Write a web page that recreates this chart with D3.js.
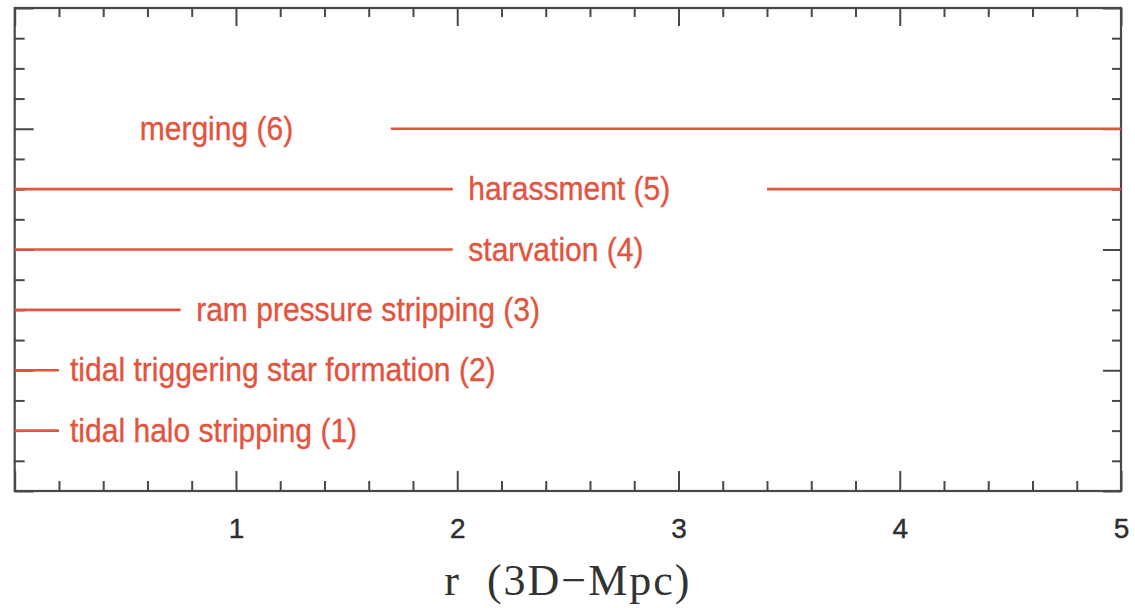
<!DOCTYPE html>
<html>
<head>
<meta charset="utf-8">
<script src="https://cdn.jsdelivr.net/npm/d3@7"></script>
<style>
  html, body { margin: 0; padding: 0; background: #fff; }
</style>
</head>
<body>
<div class="chart"></div>
<script>
// processes, ordered bottom to top
const processes = [
  `tidal halo stripping (1)`,
  `tidal triggering star formation (2)`,
  `ram pressure stripping (3)`,
  `starvation (4)`,
  `harassment (5)`,
  `merging (6)`
];
const levels = [2, 4, 6, 8, 10, 12];
// radial ranges (Mpc) where each process acts
const ranges = [
  [[0, 0.2]],
  [[0, 0.2]],
  [[0, 0.75]],
  [[0, 1.98]],
  [[0, 1.98], [3.4, 5]],
  [[1.7, 5]]
];
// where each label starts, in r units
const labelR = [0.25, 0.25, 0.82, 2.05, 2.05, 0.565];
const xTickLabels = [1, 2, 3, 4, 5];

const W = 1135;
const H = 608;
const margin = { left: 14.7, right: 1121, top: 8, bottom: 491 };
const red = `#e4533d`;
const axisColor = `#484848`;

const x = d3.scaleLinear().domain([0, 5]).range([margin.left, margin.right]);
const y = d3.scaleLinear().domain([0, 16]).range([margin.bottom, margin.top]);

const svg = d3.select(`.chart`).append(`svg`)
  .attr(`width`, W)
  .attr(`height`, H)
  .style(`display`, `block`);

svg.append(`rect`).attr(`width`, W).attr(`height`, H).attr(`fill`, `#fff`);

const xMinor = d3.range(0, 26).map(i => i / 5);
const yMinor = d3.range(0, 17);

const styleAxis = (g, isMajor, minorLen, majorLen, sign) => {
  g.select(`.domain`).remove();
  g.selectAll(`.tick line`)
    .attr(`stroke`, axisColor)
    .attr(`stroke-width`, 2)
    .each(function(d) {
      const len = isMajor(d) ? majorLen : minorLen;
      const line = d3.select(this);
      if (line.attr(`x2`) !== null) line.attr(`x2`, sign * len);
      else line.attr(`y2`, sign * len);
    });
};

const xMajor = d => Math.abs(d - Math.round(d)) < 1e-6;
const yMajor = d => d % 4 === 0;

// bottom axis
svg.append(`g`)
  .attr(`transform`, `translate(0,${margin.bottom})`)
  .call(d3.axisBottom(x).tickValues(xMinor).tickSize(-10).tickFormat(``))
  .call(g => styleAxis(g, xMajor, 10, 20, -1));

// top axis
svg.append(`g`)
  .attr(`transform`, `translate(0,${margin.top})`)
  .call(d3.axisTop(x).tickValues(xMinor).tickSize(-9).tickFormat(``))
  .call(g => styleAxis(g, xMajor, 9, 18, 1));

// left axis
svg.append(`g`)
  .attr(`transform`, `translate(${margin.left},0)`)
  .call(d3.axisLeft(y).tickValues(yMinor).tickSize(-10).tickFormat(``))
  .call(g => styleAxis(g, yMajor, 10, 19, 1));

// right axis
svg.append(`g`)
  .attr(`transform`, `translate(${margin.right},0)`)
  .call(d3.axisRight(y).tickValues(yMinor).tickSize(-9).tickFormat(``))
  .call(g => styleAxis(g, yMajor, 9, 18, -1));

// frame
svg.append(`rect`)
  .attr(`x`, margin.left)
  .attr(`y`, margin.top)
  .attr(`width`, margin.right - margin.left)
  .attr(`height`, margin.bottom - margin.top)
  .attr(`fill`, `none`)
  .attr(`stroke`, axisColor)
  .attr(`stroke-width`, 2.2);

// tick labels
svg.append(`g`)
  .attr(`transform`, `translate(0,${margin.bottom})`)
  .call(d3.axisBottom(x).tickValues(xTickLabels).tickSize(0).tickPadding(47).tickFormat(d3.format(`d`)))
  .call(g => g.select(`.domain`).remove())
  .call(g => g.selectAll(`text`)
    .attr(`fill`, `#2e2e2e`)
    .attr(`stroke`, `#2e2e2e`)
    .attr(`stroke-width`, 0.4)
    .attr(`font-family`, `Liberation Sans, Arial, sans-serif`)
    .attr(`font-size`, 28)
    .attr(`dy`, 0));

// process segments
const rows = processes.map((name, i) => ({ name, level: levels[i], ranges: ranges[i], labelR: labelR[i] }));

const segs = rows.flatMap(r => r.ranges.map(([a, b]) => ({ level: r.level, a, b })));
svg.append(`g`).selectAll(`line`)
  .data(segs)
  .enter().append(`line`)
    .attr(`x1`, d => x(d.a))
    .attr(`x2`, d => x(d.b))
    .attr(`y1`, d => y(d.level))
    .attr(`y2`, d => y(d.level))
    .attr(`stroke`, red)
    .attr(`stroke-width`, 2.6);

// labels: set taller than wide, like the original lettering
const squeeze = 0.91;
svg.append(`g`).selectAll(`text`)
  .data(rows)
  .enter().append(`text`)
    .attr(`x`, d => x(d.labelR))
    .attr(`y`, d => y(d.level))
    .attr(`dy`, 11)
    .attr(`fill`, red)
    .attr(`stroke`, red)
    .attr(`stroke-width`, 0.35)
    .attr(`font-family`, `Liberation Sans, Arial, sans-serif`)
    .attr(`font-size`, 33)
    .text(d => d.name)
    .each(function() {
      const t = d3.select(this);
      t.attr(`textLength`, this.getComputedTextLength() * squeeze)
        .attr(`lengthAdjust`, `spacingAndGlyphs`);
    });

// axis title
svg.append(`text`)
  .attr(`x`, (x(2) + x(3)) / 2)
  .attr(`y`, 595)
  .attr(`text-anchor`, `middle`)
  .attr(`fill`, `#333`)
  .attr(`font-family`, `Liberation Serif, Times New Roman, serif`)
  .attr(`font-size`, 44)
  .attr(`letter-spacing`, 2)
  .style(`white-space`, `pre`)
  .text(`r  (3D\u2212Mpc)`);
</script>
</body>
</html>
